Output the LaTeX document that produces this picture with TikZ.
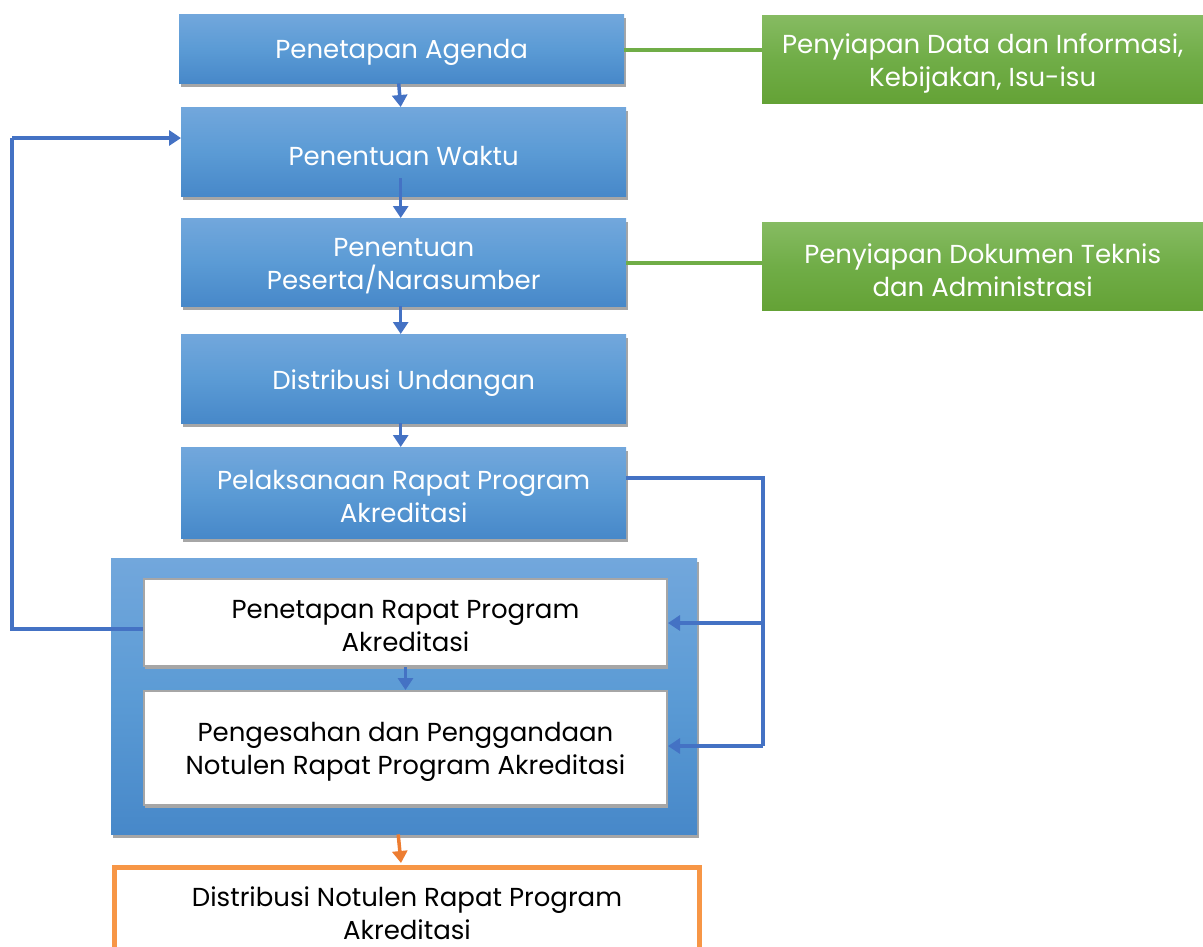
\documentclass[tikz,border=0pt]{standalone}
\usepackage{fontspec}
\setmainfont{Poppins}
\usetikzlibrary{shadows,arrows.meta}
\definecolor{btop}{HTML}{72A7DC}
\definecolor{bmid}{HTML}{5B9BD5}
\definecolor{bbot}{HTML}{4788C9}
\definecolor{gtop}{HTML}{86BB62}
\definecolor{gmid}{HTML}{70AD47}
\definecolor{gbot}{HTML}{64A236}
\definecolor{arrblue}{HTML}{4472C4}
\definecolor{lgreen}{HTML}{70AD47}
\definecolor{orangeb}{HTML}{F79646}
\definecolor{orangea}{HTML}{ED7D31}
\definecolor{shadowg}{HTML}{A6A6A6}
\tikzset{
  txt/.style={font=\fontsize{26}{33}\selectfont, align=center, inner sep=0pt},
  wtext/.style={label={[txt, text=white, yshift=-4pt]center:{#1}}},
  ktext/.style={label={[txt, text=black, yshift=-4pt]center:{#1}}},
  bluebox/.style={anchor=north west, top color=btop, bottom color=bbot, middle color=bmid,
     drop shadow={shadow xshift=2pt, shadow yshift=-4pt, fill=shadowg, opacity=1}},
  greenbox/.style={anchor=north west, top color=gtop, bottom color=gbot, middle color=gmid},
  whitebox/.style={anchor=north west, fill=white, draw=shadowg, line width=2pt,
     drop shadow={shadow xshift=1pt, shadow yshift=-3pt, fill=shadowg, opacity=1}},
  barrow/.style={draw=arrblue, line width=3.5pt, -{Triangle[length=12pt,width=15pt]}},
  bline/.style={draw=arrblue, line width=3.5pt},
  gline/.style={draw=lgreen, line width=4pt},
}
\begin{document}
\begin{tikzpicture}[x=1pt,y=-1pt]
\useasboundingbox (0,0) rectangle (1203,946);
\clip (0,0) rectangle (1203,946);
% main column
\node[bluebox, minimum width=445pt, minimum height=69pt, wtext={Penetapan Agenda}] (b1) at (179,14) {};
\node[bluebox, minimum width=445pt, minimum height=89pt, wtext={Penentuan Waktu}] (b2) at (181,107) {};
\node[bluebox, minimum width=445pt, minimum height=88pt, wtext={Penentuan\\Peserta/Narasumber}] (b3) at (181,218) {};
\node[bluebox, minimum width=445pt, minimum height=89pt, wtext={Distribusi Undangan}] (b4) at (181,334) {};
\node[bluebox, minimum width=445pt, minimum height=91pt, wtext={Pelaksanaan Rapat Program\\Akreditasi}] (b5) at (181,447) {};
% container
\node[bluebox, minimum width=586pt, minimum height=276pt] (cont) at (111,558) {};
\node[whitebox, minimum width=523pt, minimum height=87pt, ktext={Penetapan Rapat Program\\Akreditasi}] (w1) at (143,578) {};
\node[whitebox, minimum width=523pt, minimum height=114pt, ktext={Pengesahan dan Penggandaan\\Notulen Rapat Program Akreditasi}] (w2) at (143,690) {};
% final
\node[anchor=north west, draw=orangeb, line width=5pt, fill=white, minimum width=585pt, minimum height=84pt, ktext={Distribusi Notulen Rapat Program\\Akreditasi}] (fin) at (112,865) {};
% green boxes
\node[greenbox, minimum width=441pt, minimum height=88pt, wtext={Penyiapan Data dan Informasi,\\Kebijakan, Isu-isu}] (g1) at (762,15) {};
\node[greenbox, minimum width=441pt, minimum height=88pt, wtext={Penyiapan Dokumen Teknis\\dan Administrasi}] (g2) at (762,222) {};
% green connectors
\coordinate (gy1) at (0,50);
\coordinate (gy2) at (0,263);
\draw[gline] (b1.east |- gy1) -- (g1.west |- gy1);
\draw[gline] (b3.east |- gy2) -- (g2.west |- gy2);
% vertical arrows
\draw[barrow] ([xshift=-3pt]b1.south) -- ([xshift=-3pt]b2.north);
\draw[barrow] ([xshift=-3pt,yshift=18pt]b2.south) -- ([xshift=-3pt]b3.north);
\draw[barrow] ([xshift=-3pt]b3.south) -- ([xshift=-3pt]b4.north);
\draw[barrow] ([xshift=-3pt]b4.south) -- ([xshift=-3pt]b5.north);
\draw[barrow] (w1.south) -- (w2.north);
\draw[draw=orangea, line width=3.5pt, -{Triangle[length=12pt,width=15pt]}] ([xshift=-6pt]cont.south) -- ([xshift=-6pt,yshift=2pt]fin.north);
% feedback loop
\coordinate (fl) at (12,629);
\coordinate (ft) at (12,138);
\draw[bline] (w1.west |- fl) -- (fl) -- (ft);
\draw[barrow] (ft) -- (b2.west |- ft);
% right loop
\coordinate (rt) at (763,478);
\coordinate (r1) at (763,623);
\coordinate (r2) at (763,746);
\draw[bline] (b5.east |- rt) -- (rt) -- (r2);
\draw[barrow] (r1) -- (w1.east |- r1);
\draw[barrow] (r2) -- (w2.east |- r2);
\end{tikzpicture}
\end{document}
